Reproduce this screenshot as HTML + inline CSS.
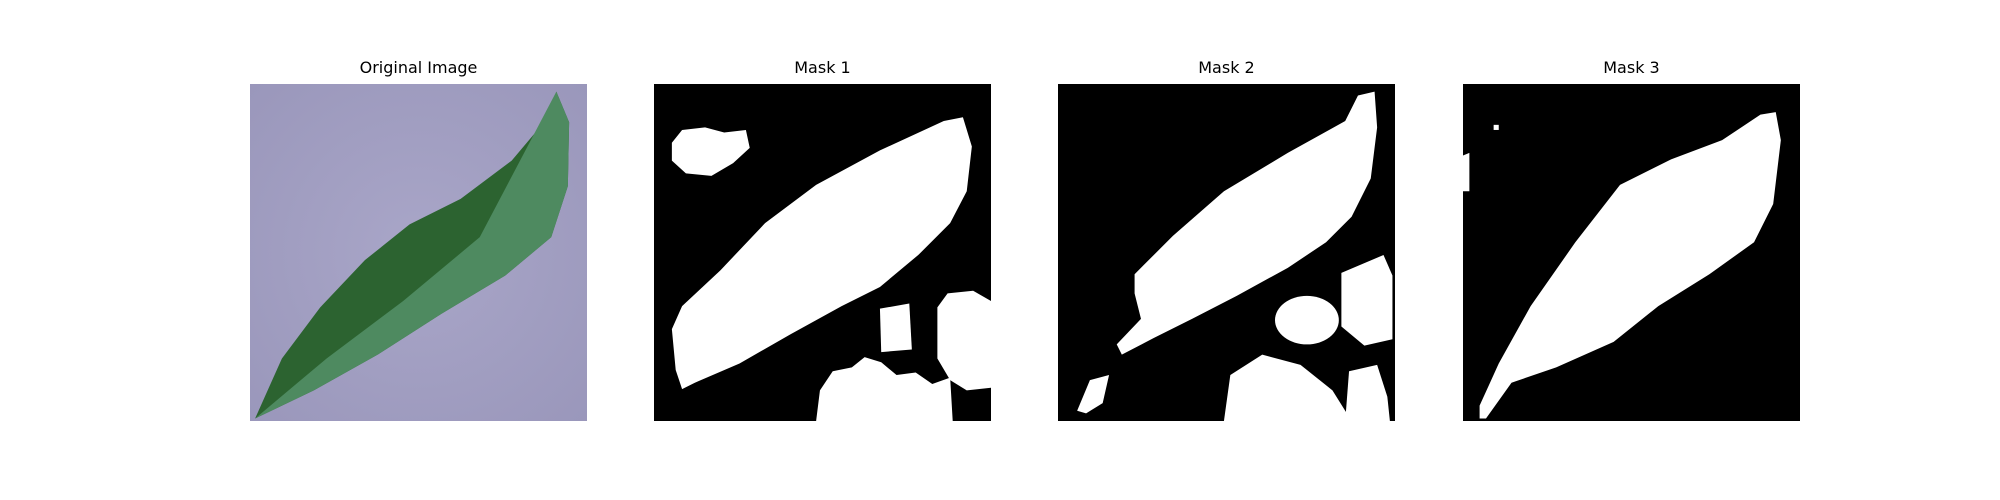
<!DOCTYPE html>
<html><head><meta charset="utf-8"><style>
body{margin:0;width:2000px;height:500px;background:#fff;overflow:hidden;font-family:"DejaVu Sans","Liberation Sans",sans-serif;}
.p{position:absolute;top:84px;width:337px;height:337px;}
.t{position:absolute;top:58px;width:337px;text-align:center;font-size:16px;color:#000;}
svg{display:block}
</style></head><body>
<div class="t" style="left:250px">Original Image</div>
<div class="t" style="left:654px">Mask 1</div>
<div class="t" style="left:1058px">Mask 2</div>
<div class="t" style="left:1463px">Mask 3</div>

<div class="p" style="left:250px">
<svg width="337" height="337" viewBox="0 0 264 264">
<defs><radialGradient id="bg" cx="50%" cy="50%" r="70%"><stop offset="0" stop-color="#a9a6c8"/><stop offset="1" stop-color="#9a97bb"/></radialGradient></defs>
<rect width="264" height="264" fill="url(#bg)"/>
<path d="M4,262 L25,215 L55,175 L90,138 L125,110 L165,90 L205,60 L232,28 L240,6 L250,30 L249,80 L236,120 L200,150 L150,180 L100,212 L50,240 Z" fill="#2c6330"/>
<path d="M4,262 L60,215 L120,170 L180,120 L240,6 L250,30 L249,80 L236,120 L200,150 L150,180 L100,212 L50,240 Z" fill="#4e8a60"/>
</svg></div>

<div class="p" style="left:654px">
<svg width="337" height="337" viewBox="0 0 264 264">
<rect width="264" height="264" fill="#000"/>
<g fill="#fff">
<path d="M14,192 L22,174 L52,146 L87,109 L127,79 L177,52 L227,29 L242,26 L249,49 L245,84 L232,109 L207,134 L177,159 L147,174 L107,196 L67,219 L32,234 L22,239 L17,224 Z"/>
<path d="M14,46 L22,36 L40,34 L55,38 L72,36 L75,50 L62,62 L45,72 L25,70 L14,60 Z"/>
<path d="M127,264 L130,240 L140,225 L155,222 L165,214 L178,218 L190,228 L205,226 L218,235 L232,230 L234,264 Z"/>
<path d="M222,175 L230,164 L250,162 L264,170 L264,238 L245,240 L232,232 L222,215 Z"/>
<path d="M177,176 L200,172 L202,208 L178,210 Z"/>
</g></svg></div>

<div class="p" style="left:1058px">
<svg width="337" height="337" viewBox="0 0 264 264">
<rect width="264" height="264" fill="#000"/>
<g fill="#fff">
<path d="M60,149 L90,119 L130,84 L180,54 L225,29 L235,9 L248,6 L250,34 L245,74 L230,104 L210,124 L180,144 L140,166 L105,184 L75,199 L50,212 L46,204 L65,184 L60,164 Z"/>
<ellipse cx="195" cy="185" rx="25" ry="19"/>
<path d="M222,148 L255,134 L262,150 L262,200 L240,205 L222,190 Z"/>
<path d="M130,264 L135,228 L160,212 L190,220 L215,240 L230,264 Z"/>
<path d="M225,264 L228,225 L250,220 L258,245 L260,264 Z"/>
<path d="M15,256 L25,232 L40,228 L35,250 L22,258 Z"/>
</g></svg></div>

<div class="p" style="left:1463px">
<svg width="337" height="337" viewBox="0 0 264 264">
<rect width="264" height="264" fill="#000"/>
<g fill="#fff">
<path d="M13,252 L28,219 L53,174 L88,124 L123,79 L163,59 L203,44 L233,24 L245,22 L249,44 L243,94 L228,124 L193,149 L153,174 L118,202 L73,222 L38,234 L18,262 L13,262 Z"/>
<rect x="24" y="32" width="4" height="4"/>
<path d="M0,56 L5,54 L5,84 L0,84 Z"/>
</g></svg></div>
</body></html>
